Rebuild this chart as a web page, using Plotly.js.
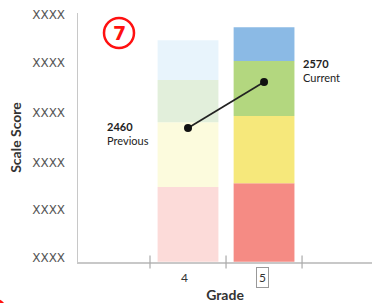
<!DOCTYPE html>
<html>
<head>
<meta charset="utf-8">
<script src="https://cdn.plot.ly/plotly-3.0.1.min.js"></script>
<style>html,body{margin:0;padding:0;background:#fff;}#chart{width:372px;height:303px;}</style>
</head>
<body>
<div id="chart"></div>
<script>
// Data
var grades = [4, 5];
var gradeLabels = ['4', '5'];
var cutsGrade4 = [2140, 2319, 2474, 2575, 2670];
var cutsGrade5 = [2140, 2328, 2489, 2620, 2701];
var bandNames = ['Level 1', 'Level 2', 'Level 3', 'Level 4'];
var colorsGrade4 = ['#fcdbd9', '#fcfbdd', '#e2efdb', '#e8f4fc'];
var colorsGrade5 = ['#f58b84', '#f6e87b', '#b3d77f', '#8bbae5'];
var scoreValues = [2460, 2570];
var scoreNames = ['Previous', 'Current'];
var yTickVals = [2149, 2264, 2378, 2496, 2615, 2730];
var yTickText = ['XXXX', 'XXXX', 'XXXX', 'XXXX', 'XXXX', 'XXXX'];
var xBoundaries = [3.5, 4.5, 5.5];
var markerNumber = '7';

var FONT = 'Lato, "DejaVu Sans", sans-serif';
var traces = [];
for (var b = 0; b < bandNames.length; b++) {
  traces.push({
    type: 'bar',
    name: bandNames[b],
    x: grades,
    base: [cutsGrade4[b], cutsGrade5[b]],
    y: [cutsGrade4[b + 1] - cutsGrade4[b], cutsGrade5[b + 1] - cutsGrade5[b]],
    width: 0.8,
    marker: {color: [colorsGrade4[b], colorsGrade5[b]], line: {width: 0}},
    hoverinfo: 'skip'
  });
}
traces.push({
  type: 'scatter',
  mode: 'lines+markers',
  x: grades,
  y: scoreValues,
  line: {color: '#222', width: 1.7},
  marker: {color: '#111', size: 8}
});

function px2paperX(p) { return (p - 78) / (372 - 78); }
function px2paperY(p) { return 1 - (p - 13) / (262 - 13); }

var annotations = [
  {x: grades[0], y: scoreValues[0], xref: 'x', yref: 'y', xanchor: 'left', yanchor: 'middle',
   xshift: -83, yshift: -5, align: 'left', showarrow: false,
   text: '<b>' + scoreValues[0] + '</b><br>' + scoreNames[0],
   font: {family: FONT, size: 11, color: '#222'}},
  {x: grades[1], y: scoreValues[1], xref: 'x', yref: 'y', xanchor: 'left', yanchor: 'middle',
   xshift: 37, yshift: 12, align: 'left', showarrow: false,
   text: '<b>' + scoreValues[1] + '</b><br>' + scoreNames[1],
   font: {family: FONT, size: 11, color: '#222'}},
  {x: grades[0], y: 0, xref: 'x', yref: 'paper', yanchor: 'top', yshift: -6, xshift: -4,
   showarrow: false, text: gradeLabels[0], font: {family: FONT, size: 12, color: '#333'}},
  {x: grades[1], y: 0, xref: 'x', yref: 'paper', yanchor: 'top', yshift: -5, xshift: -2,
   showarrow: false, text: gradeLabels[1], font: {family: FONT, size: 12, color: '#333'},
   bordercolor: '#999', borderwidth: 1, borderpad: 2},
  {x: px2paperX(119), y: px2paperY(33), xref: 'paper', yref: 'paper', xanchor: 'center', yanchor: 'middle',
   showarrow: false, text: '<b>' + markerNumber + '</b>',
   font: {family: '"DejaVu Sans", sans-serif', size: 19, color: '#ff1010'}}
];

var shapes = [];
xBoundaries.forEach(function (v) {
  shapes.push({type: 'line', xref: 'x', yref: 'paper', x0: v, x1: v, y0: -0.026, y1: 0.026,
    line: {color: '#aaa', width: 1.2}});
});
shapes.push({type: 'circle', xref: 'paper', yref: 'paper', layer: 'above',
  x0: px2paperX(104), x1: px2paperX(134), y0: px2paperY(48), y1: px2paperY(18),
  fillcolor: 'rgba(0,0,0,0)', line: {color: '#ff1010', width: 2.5}});
shapes.push({type: 'circle', xref: 'paper', yref: 'paper', layer: 'above',
  x0: px2paperX(-25), x1: px2paperX(8), y0: px2paperY(332), y1: px2paperY(299),
  fillcolor: 'rgba(0,0,0,0)', line: {color: '#ff1010', width: 2.5}});

var layout = {
  width: 372, height: 303,
  margin: {l: 78, r: 0, t: 13, b: 41, pad: 0},
  paper_bgcolor: '#fff', plot_bgcolor: '#fff',
  showlegend: false,
  barmode: 'overlay',
  xaxis: {
    range: [2.553, 6.42], showgrid: false, zeroline: false,
    showline: true, linecolor: '#c8c8c8', linewidth: 1.5,
    tickvals: xBoundaries, ticktext: ['', '', ''], ticks: '',
    title: {text: '<b>Grade</b>', standoff: 26, font: {family: FONT, size: 14, color: '#333'}},
    fixedrange: true
  },
  yaxis: {
    range: [2139.6, 2735], showgrid: false, zeroline: false,
    showline: true, linecolor: '#c8c8c8', linewidth: 1.5,
    tickvals: yTickVals, ticktext: yTickText, ticks: '',
    ticklabelstandoff: 9,
    tickfont: {family: '"DejaVu Sans", sans-serif', size: 12, color: '#555'},
    title: {text: '<b>Scale Score</b>', standoff: 7, font: {family: FONT, size: 14, color: '#333'}},
    fixedrange: true
  },
  annotations: annotations,
  shapes: shapes
};
Plotly.newPlot('chart', traces, layout, {displayModeBar: false, staticPlot: true});
</script>
</body>
</html>
